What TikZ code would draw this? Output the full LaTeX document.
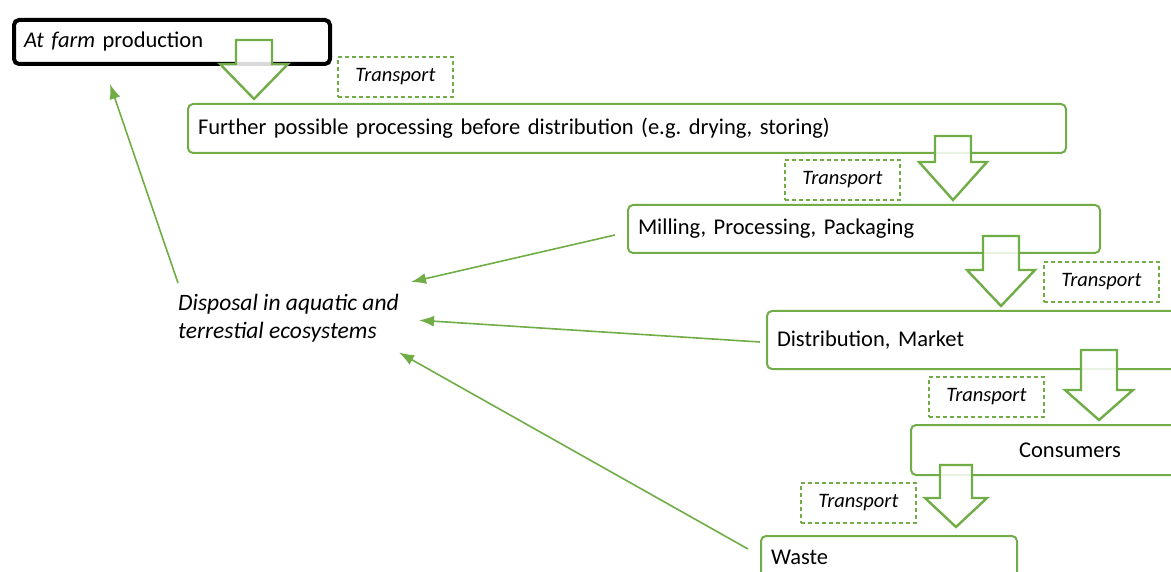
\documentclass[tikz,border=0pt]{standalone}
\usepackage{fontspec}
\setmainfont{Carlito}
\usetikzlibrary{arrows.meta,positioning}

\definecolor{leafgreen}{HTML}{70AD47}

\tikzset{
  stagebox/.style={draw=leafgreen,line width=2pt,rounded corners=5pt,
    anchor=north west,inner xsep=9pt,align=left,
    font=\fontsize{22.5}{26}\selectfont},
  transportbox/.style={draw=leafgreen,line width=1.7pt,dash pattern=on 4pt off 3pt,
    minimum width=115pt,minimum height=40pt,anchor=north west,
    font=\fontsize{20.5}{24}\selectfont\itshape},
  blockarrow/.style={draw=leafgreen,line width=2.4pt,fill=white,fill opacity=0.85,line join=miter},
  flowarrow/.style={draw=leafgreen,line width=1.6pt,-{Latex[length=15pt,width=11pt]}},
}

\begin{document}
\frenchspacing
\begin{tikzpicture}[x=1pt,y=-1pt]
\useasboundingbox (0,0) rectangle (1171,572);

% etapas
\node[stagebox,draw=black,line width=4pt,minimum width=316pt,minimum height=44pt,
  text width=296pt] (farm) at (12,18) {\textit{At farm} production};
\node[stagebox,minimum width=878pt,minimum height=49pt,text width=858pt]
  (further) at (187,103) {Further possible processing before distribution (e.g. drying, storing)};
\node[stagebox,minimum width=472pt,minimum height=48pt,text width=452pt]
  (milling) at (627,204) {Milling, Processing, Packaging};
\node[stagebox,minimum width=440pt,minimum height=58pt,text width=420pt]
  (market) at (766,310) {Distribution, Market};
\node[stagebox,minimum width=318pt,minimum height=50pt,text width=298pt,align=center]
  (consumers) at (910,424) {Consumers};
\node[stagebox,minimum width=256pt,minimum height=42pt,text width=236pt]
  (waste) at (760,535) {Waste};

% transporte
\node[transportbox] (tr1) at (337,56) {Transport};
\node[transportbox] (tr2) at (784,159) {Transport};
\node[transportbox] (tr3) at (1043,261) {Transport};
\node[transportbox] (tr4) at (928,376) {Transport};
\node[transportbox] (tr5) at (800,482) {Transport};

% setas grandes
\draw[blockarrow] (236,40) -- (272,40) -- (272,64) -- (288,64) -- (254,99) -- (220,64) -- (236,64) -- cycle;
\draw[blockarrow] (935,136) -- (971,136) -- (971,162) -- (987,162) -- (953,200) -- (919,162) -- (935,162) -- cycle;
\draw[blockarrow] (983,236) -- (1019,236) -- (1019,270) -- (1035,270) -- (1001,306) -- (967,270) -- (983,270) -- cycle;
\draw[blockarrow] (1081,350) -- (1117,350) -- (1117,390) -- (1133,390) -- (1099,420) -- (1065,390) -- (1081,390) -- cycle;
\draw[blockarrow] (940,465) -- (972,465) -- (972,498) -- (987,498) -- (956,527) -- (925,498) -- (940,498) -- cycle;

% descarte
\node[anchor=north west,inner sep=0pt,align=left,
  font=\fontsize{23.5}{28}\selectfont\itshape] (disposal) at (178,294)
  {Disposal in aquatic and\\terrestial ecosystems};

\draw[flowarrow] ([yshift=11pt]disposal.north west) -- ([xshift=98pt,yshift=-18pt]farm.south west);
\draw[flowarrow] ([xshift=-12pt,yshift=-6pt]milling.west) -- ([xshift=12pt,yshift=12pt]disposal.north east);
\draw[flowarrow] ([xshift=-6pt,yshift=-2pt]market.west) -- ([xshift=20pt,yshift=-2pt]disposal.east);
\draw[flowarrow] ([xshift=-12pt,yshift=8pt]waste.west) -- ([xshift=0pt,yshift=-10pt]disposal.south east);

\end{tikzpicture}
\end{document}
